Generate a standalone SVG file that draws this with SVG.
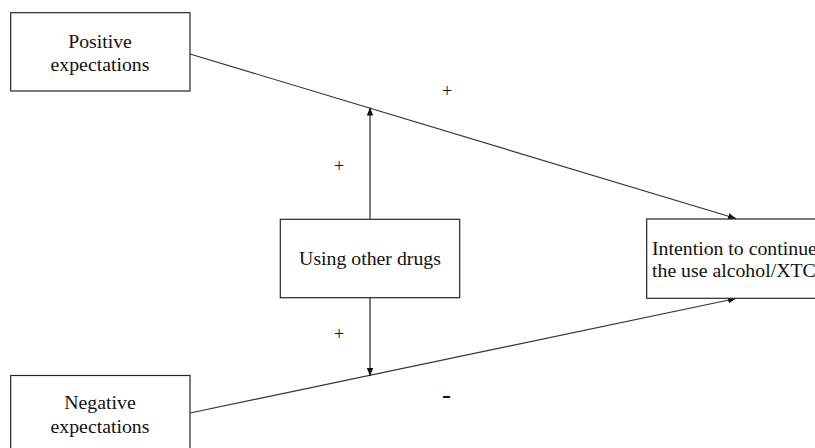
<svg xmlns="http://www.w3.org/2000/svg" width="815" height="448" viewBox="0 0 815 448">
  <defs>
    <style>
      .box { fill: #ffffff; stroke: #262626; stroke-width: 1.2; }
      .label { font-family: "Liberation Serif", "Times New Roman", serif; font-size: 19.8px; fill: #111111; }
      .sign { font-family: "Liberation Serif", "Times New Roman", serif; font-size: 18px; fill: #111111; text-anchor: middle; }
      .edge { fill: none; stroke: #333333; stroke-width: 1.1; }
      .vert { fill: none; stroke: #111111; stroke-width: 1.1; }
    </style>
    <marker id="arrow" viewBox="0 0 10 8" refX="10" refY="4" markerWidth="8" markerHeight="6.4" markerUnits="userSpaceOnUse" orient="auto">
      <path d="M0,0 L10,4 L0,8 z" fill="#111111"/>
    </marker>
  </defs>

  <rect width="815" height="448" fill="#ffffff"/>

  <g id="connectors">
    <line class="edge" x1="190" y1="54" x2="736" y2="218.5" marker-end="url(#arrow)"/>
    <line class="edge" x1="190" y1="413" x2="736" y2="298.5" marker-end="url(#arrow)"/>
    <line class="vert" x1="370" y1="219" x2="370" y2="107.5" marker-end="url(#arrow)"/>
    <line class="vert" x1="370" y1="298" x2="370" y2="376" marker-end="url(#arrow)"/>
  </g>

  <g id="positive-expectations">
    <rect class="box" x="10.7" y="12.7" width="179.3" height="78.3"/>
    <text class="label" x="100" y="47.5" text-anchor="middle">Positive</text>
    <text class="label" x="100" y="71" text-anchor="middle">expectations</text>
  </g>

  <g id="negative-expectations">
    <rect class="box" x="10.7" y="375.5" width="179.3" height="80"/>
    <text class="label" x="100" y="409" text-anchor="middle">Negative</text>
    <text class="label" x="100" y="433" text-anchor="middle">expectations</text>
  </g>

  <g id="using-other-drugs">
    <rect class="box" x="280.3" y="219.3" width="179.4" height="78.4"/>
    <text class="label" x="370" y="265" text-anchor="middle">Using other drugs</text>
  </g>

  <g id="intention">
    <rect class="box" x="646.7" y="219" width="180" height="79.3"/>
    <text class="label" x="652" y="255">Intention to continue</text>
    <text class="label" x="652" y="277">the use alcohol/XTC</text>
  </g>

  <g id="signs">
    <text class="sign" x="447" y="96.5">+</text>
    <text class="sign" x="339" y="172">+</text>
    <text class="sign" x="339" y="340">+</text>
    <text class="sign" x="446.5" y="403" style="font-size:27px">-</text>
  </g>
</svg>
